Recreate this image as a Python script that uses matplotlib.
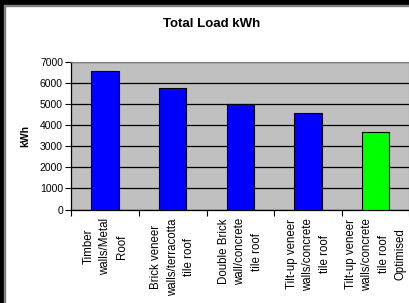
import matplotlib
matplotlib.use('Agg')
import matplotlib.pyplot as plt
from matplotlib.patches import Rectangle

plt.rcParams['font.family'] = ['Liberation Sans', 'DejaVu Sans']

# Data
categories = ['Timber\nwalls/Metal\nRoof',
              'Brick veneer\nwalls/terracotta\ntile roof',
              'Double Brick\nwall/concrete\ntile roof',
              'Tilt-up veneer\nwalls/concrete\ntile roof',
              'Tilt-up veneer\nwalls/concrete\ntile roof\nOptimised']
load_kwh = [6560, 5770, 5000, 4600, 3680]
bar_colors = ['#0000FF', '#0000FF', '#0000FF', '#0000FF', '#00FF00']
y_ticks = [0, 1000, 2000, 3000, 4000, 5000, 6000, 7000]

W, H = 410, 303
fig = plt.figure(figsize=(W / 100, H / 100), dpi=100)

# Axes placement (pixel coords from reference)
left, right, top, bottom = 71.3, 409.5, 62, 209.5
ax = fig.add_axes([left / W, 1 - bottom / H, (right - left) / W, (bottom - top) / H])
ax.set_facecolor('#C0C0C0')

x = list(range(len(categories)))
ax.bar(x, load_kwh, width=0.405, color=bar_colors, edgecolor='black', linewidth=0.8, zorder=3)

ax.set_xlim(-0.5, len(categories) - 0.5)
ax.set_ylim(0, 7000)
ax.set_yticks(y_ticks)
ax.yaxis.grid(True, color='black', linewidth=0.9, zorder=1)
ax.set_axisbelow(True)
ax.tick_params(axis='y', labelsize=7.5, length=4, width=0.8, pad=2)

# x ticks at category boundaries, labels centered under bars
ax.set_xticks([i - 0.5 for i in range(len(categories) + 1)])
ax.set_xticklabels([])
ax.tick_params(axis='x', length=4, width=0.8)
for i, lab in enumerate(categories):
    ax.text(i, -0.058, lab, transform=ax.get_xaxis_transform(), rotation=90,
            ha='center', va='top', multialignment='center', fontsize=8.3,
            linespacing=1.5)

for s in ['top', 'right']:
    ax.spines[s].set_color('#808080')
for s in ['left', 'bottom']:
    ax.spines[s].set_color('black')
    ax.spines[s].set_linewidth(0.9)

ax.set_ylabel('kWh', fontsize=7.5, fontweight='bold', labelpad=7)
fig.text(211.7 / W, 1 - 24 / H, 'Total Load kWh', ha='center', va='center',
         fontsize=9.5, fontweight='bold')

# Black frame on top and left edges
fig.patches.append(Rectangle((0, 1 - 5 / H), 1, 5 / H, transform=fig.transFigure,
                             color='black', zorder=10))
fig.patches.append(Rectangle((0, 0), 4 / W, 1, transform=fig.transFigure,
                             color='black', zorder=10))
fig.patches.append(Rectangle((4 / W, 1 - 6 / H), 1, 1 / H, transform=fig.transFigure,
                             color='#808080', zorder=10))
fig.patches.append(Rectangle((4 / W, 0), 1 / W, 1 - 5 / H, transform=fig.transFigure,
                             color='#808080', zorder=10))

fig.savefig('out.png', dpi=100)
